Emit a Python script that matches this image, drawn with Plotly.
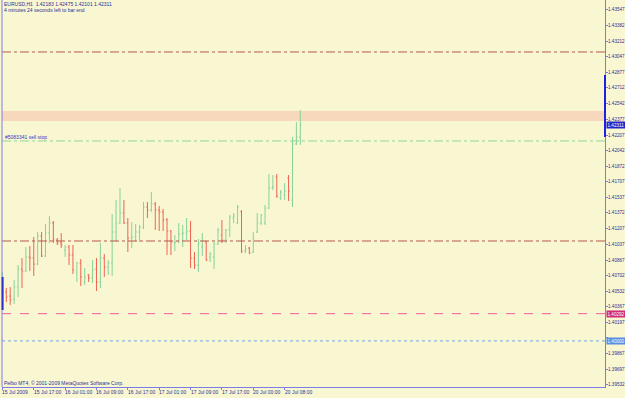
import plotly.graph_objects as go

# ---- data (EURUSD H1) ----
opens = [1.40470, 1.40524, 1.40481, 1.40449, 1.40578, 1.40771, 1.40749, 1.40899, 1.40888, 1.40824,
         1.41124, 1.40910, 1.41156, 1.41264, 1.41081, 1.41049, 1.40974, 1.41006, 1.40921, 1.40738,
         1.40835, 1.40631, 1.40706, 1.40674, 1.40771, 1.40631, 1.40888, 1.40792, 1.40835, 1.41167,
         1.41264, 1.41371, 1.41264, 1.41103, 1.41114, 1.41167, 1.41221, 1.41435, 1.41403, 1.41467,
         1.41403, 1.41382, 1.41296, 1.41178, 1.41049, 1.41060, 1.41146, 1.41156, 1.41178, 1.40888,
         1.40813, 1.41006, 1.41060, 1.40899, 1.40899, 1.41039, 1.41135, 1.41081, 1.41189, 1.41317,
         1.41264, 1.41382, 1.40963, 1.40996, 1.40953, 1.41167, 1.41264, 1.41264, 1.41424, 1.41639,
         1.41757, 1.41532, 1.41564, 1.41746, 1.41510, 1.42111, 1.42183]
highs = [1.40738, 1.40567, 1.40578, 1.40653, 1.40813, 1.40888, 1.41006, 1.41017, 1.41114, 1.41167,
         1.41167, 1.41253, 1.41339, 1.41285, 1.41103, 1.41156, 1.41028, 1.41028, 1.41028, 1.40846,
         1.40878, 1.40781, 1.40717, 1.40867, 1.40888, 1.41049, 1.40931, 1.40867, 1.41360, 1.41510,
         1.41639, 1.41510, 1.41317, 1.41274, 1.41253, 1.41242, 1.41489, 1.41489, 1.41596, 1.41489,
         1.41446, 1.41414, 1.41317, 1.41189, 1.41135, 1.41264, 1.41242, 1.41317, 1.41285, 1.40953,
         1.41092, 1.41156, 1.41071, 1.40953, 1.41060, 1.41210, 1.41296, 1.41199, 1.41349, 1.41371,
         1.41457, 1.41403, 1.41028, 1.41006, 1.41167, 1.41371, 1.41360, 1.41457, 1.41789, 1.41778,
         1.41789, 1.41617, 1.41692, 1.41778, 1.42186, 1.42346, 1.42475]
lows = [1.40438, 1.40417, 1.40385, 1.40395, 1.40470, 1.40567, 1.40738, 1.40749, 1.40696, 1.40813,
        1.40899, 1.40899, 1.41049, 1.41049, 1.41028, 1.40996, 1.40899, 1.40813, 1.40717, 1.40631,
        1.40588, 1.40599, 1.40631, 1.40620, 1.40535, 1.40567, 1.40685, 1.40706, 1.40696, 1.41060,
        1.41253, 1.41253, 1.40953, 1.40996, 1.41060, 1.41060, 1.41199, 1.41317, 1.41382, 1.41189,
        1.41178, 1.41178, 1.40921, 1.40921, 1.40963, 1.41049, 1.41006, 1.41081, 1.40781, 1.40771,
        1.40738, 1.40910, 1.40856, 1.40846, 1.40771, 1.41028, 1.41049, 1.41049, 1.41114, 1.41264,
        1.41253, 1.40942, 1.40942, 1.40931, 1.40942, 1.41156, 1.41242, 1.41242, 1.41414, 1.41617,
        1.41532, 1.41510, 1.41510, 1.41500, 1.41435, 1.42100, 1.42101]
closes = [1.40524, 1.40470, 1.40438, 1.40578, 1.40771, 1.40749, 1.40899, 1.40888, 1.40824, 1.41124,
          1.40910, 1.41156, 1.41264, 1.41081, 1.41049, 1.41028, 1.41006, 1.40921, 1.40760, 1.40835,
          1.40685, 1.40685, 1.40674, 1.40760, 1.40631, 1.40888, 1.40792, 1.40835, 1.41167, 1.41264,
          1.41371, 1.41264, 1.41103, 1.41114, 1.41167, 1.41221, 1.41435, 1.41403, 1.41467, 1.41403,
          1.41382, 1.41296, 1.41178, 1.41060, 1.41060, 1.41146, 1.41156, 1.41178, 1.40888, 1.40813,
          1.41049, 1.41071, 1.40867, 1.40931, 1.41039, 1.41189, 1.41081, 1.41189, 1.41328, 1.41339,
          1.41435, 1.40963, 1.40985, 1.40942, 1.41081, 1.41264, 1.41349, 1.41424, 1.41639, 1.41650,
          1.41553, 1.41596, 1.41607, 1.41607, 1.42111, 1.42186, 1.42311]

time_labels = ["15 Jul 2009", "15 Jul 17:00", "16 Jul 01:00", "16 Jul 09:00", "16 Jul 17:00",
               "17 Jul 01:00", "17 Jul 09:00", "17 Jul 17:00", "20 Jul 00:00", "20 Jul 08:00"]
label_every = 8

price_ticks = [1.43547, 1.43382, 1.43212, 1.43047, 1.42877, 1.42712, 1.42542, 1.42377, 1.42207,
               1.42042, 1.41872, 1.41707, 1.41537, 1.41372, 1.41207, 1.41037, 1.40867, 1.40702,
               1.40532, 1.40367, 1.40197, 1.40032, 1.39867, 1.39697, 1.39532]

level_upper = 1.43097      # dash-dot
level_lower = 1.41071      # dash-dot
level_sellstop = 1.42143   # green dash-dot, pending order
level_pink = 1.40292       # magenta dashed
level_blue = 1.40000       # blue dotted
band_low, band_high = 1.42357, 1.42464
current_price = 1.42311

header1 = "EURUSD,H1  1.42183 1.42475 1.42101 1.42311"
header2 = "4 minutes 24 seconds left to bar end"
order_text = "#5083341 sell stop"
copyright_text = "Pelbo MT4, © 2001-2009 MetaQuotes Software Corp."

# ---- styles ----
BG = "#f9f7d2"
AXIS = "#7c7ce6"
TXT = "#2e2e96"
GREEN = "#86d298"
RED = "#ee6352"
FONT = "Liberation Sans"

idx = list(range(len(opens)))
fig = go.Figure()
fig.add_trace(go.Ohlc(
    x=idx, open=opens, high=highs, low=lows, close=closes,
    increasing=dict(line=dict(color=GREEN, width=1)),
    decreasing=dict(line=dict(color=RED, width=1)),
    tickwidth=0.3, showlegend=False, hoverinfo="skip"))

shapes = []
shapes.append(dict(type="rect", xref="paper", yref="y", x0=0, x1=1, y0=band_low, y1=band_high,
                   fillcolor="#f8d8bc", line=dict(width=0), layer="below"))
for lvl, col, dash in [(level_upper, "#b8584a", "dashdot"), (level_lower, "#b8584a", "dashdot"),
                       (level_sellstop, "#8fd69a", "dashdot"), (level_pink, "#e8609a", "dash"),
                       (level_blue, "#72a8e8", "dot")]:
    shapes.append(dict(type="line", xref="paper", yref="y", x0=0, x1=1, y0=lvl, y1=lvl,
                       line=dict(color=col, width=1, dash=dash)))
# left border and highlighted scale segments
shapes.append(dict(type="line", xref="paper", yref="paper", x0=0, x1=0, y0=0, y1=1,
                   line=dict(color=AXIS, width=1)))
shapes.append(dict(type="line", xref="paper", yref="paper", x0=0.001, x1=0.001,
                   y0=1 - 310 / 387, y1=1 - 277 / 387, line=dict(color="#3030c8", width=2)))
shapes.append(dict(type="line", xref="paper", yref="paper", x0=1, x1=1,
                   y0=1 - 137 / 387, y1=1 - 75 / 387, line=dict(color="#2020e0", width=2)))

annotations = []
for j, lab in enumerate(time_labels):
    annotations.append(dict(x=j * label_every, y=0, xref="x", yref="paper", text=lab,
                            showarrow=False, xanchor="left", yanchor="top", yshift=-1, xshift=-1,
                            borderpad=0, font=dict(size=5, color=TXT, family=FONT)))
# price scale labels (left-aligned just right of the scale line); the one under the
# blue level box is covered in the original
for v in price_ticks:
    if abs(v - level_blue) < 0.0005:
        continue
    annotations.append(dict(x=1, y=v, xref="paper", yref="y", text=f"{v:.5f}",
                            showarrow=False, xanchor="left", yanchor="middle", xshift=2,
                            borderpad=0, font=dict(size=4.6, color=TXT, family=FONT)))
annotations.append(dict(x=0, y=1, xref="paper", yref="paper", text=header1, showarrow=False,
                        xanchor="left", yanchor="top", xshift=1, yshift=0, borderpad=0,
                        font=dict(size=5, color=TXT, family=FONT)))
annotations.append(dict(x=0, y=1, xref="paper", yref="paper", text=header2, showarrow=False,
                        xanchor="left", yanchor="top", xshift=1, yshift=-6, borderpad=0,
                        font=dict(size=5, color=TXT, family=FONT)))
annotations.append(dict(x=0, y=level_sellstop, xref="paper", yref="y", text=order_text,
                        showarrow=False, xanchor="left", yanchor="bottom", xshift=2, yshift=0,
                        borderpad=0, font=dict(size=5, color="#3535c8", family=FONT)))
annotations.append(dict(x=0, y=0, xref="paper", yref="paper", text=copyright_text,
                        showarrow=False, xanchor="left", yanchor="bottom", xshift=1, yshift=0,
                        borderpad=0, font=dict(size=5, color=TXT, family=FONT)))
for val, bg in [(current_price, "#2424c8"), (level_pink, "#d02a78"), (level_blue, "#5a8ee0")]:
    annotations.append(dict(x=1, y=val, xref="paper", yref="y", text=f"{val:.5f}",
                            showarrow=False, xanchor="left", yanchor="middle", xshift=1,
                            bgcolor=bg, borderpad=0.5,
                            font=dict(size=4.6, color="white", family=FONT)))

plot_w = 625 - 2 - 20
px_per_bar = 3.92
x0 = -0.1
fig.update_layout(
    width=625, height=398,
    margin=dict(l=2, r=20, t=0, b=11, autoexpand=False),
    paper_bgcolor=BG, plot_bgcolor=BG,
    shapes=shapes, annotations=annotations,
    font=dict(family=FONT, size=5, color=TXT),
    xaxis=dict(range=[x0, x0 + plot_w / px_per_bar], rangeslider=dict(visible=False),
               showgrid=False, zeroline=False, showline=True, linecolor=AXIS, linewidth=1,
               ticks="outside", ticklen=2, tickcolor=AXIS,
               tickvals=[j * label_every for j in range(len(time_labels))],
               showticklabels=False, fixedrange=True),
    yaxis=dict(side="right", range=[1.39506, 1.43654], showgrid=False, zeroline=False,
               showline=True, linecolor=AXIS, linewidth=1, ticks="outside", ticklen=2,
               tickcolor=AXIS, tickvals=price_ticks, showticklabels=False, fixedrange=True),
)
fig.write_html("out.html")
